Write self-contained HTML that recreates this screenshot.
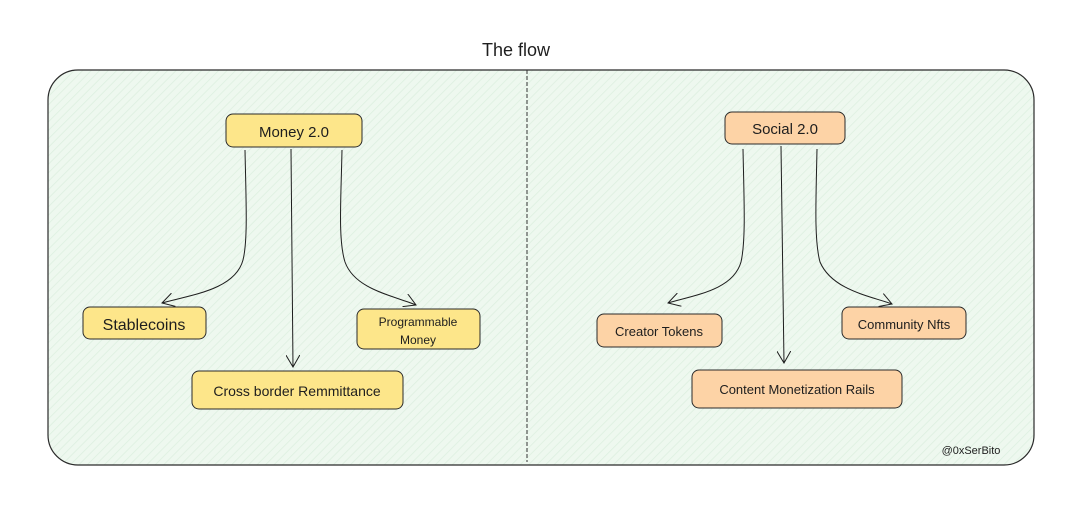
<!DOCTYPE html>
<html><head><meta charset="utf-8"><style>
body{margin:0;background:#fff;}
svg text{font-family:"Liberation Sans",sans-serif;fill:#1e1e1e;}
</style></head><body>
<svg width="1084" height="505" viewBox="0 0 1084 505" xmlns="http://www.w3.org/2000/svg">
<defs>
<pattern id="h" width="6" height="6" patternUnits="userSpaceOnUse" patternTransform="rotate(45)">
<rect width="6" height="6" fill="#eef8ef"/><line x1="0" y1="0" x2="0" y2="6" stroke="#dcefdf" stroke-width="1.5"/>
</pattern>
<marker id="a" markerWidth="14" markerHeight="14" refX="12" refY="7" orient="auto" markerUnits="userSpaceOnUse">
<path d="M0,0 L12,7 L0,14" fill="none" stroke="#1e1e1e" stroke-width="1"/></marker>
</defs>
<text x="516" y="56" font-size="18" text-anchor="middle">The flow</text>
<rect x="48" y="70" width="986" height="395" rx="30" fill="url(#h)" stroke="#2a2a2a" stroke-width="1.2"/>
<line x1="527" y1="70" x2="527" y2="462" stroke="#333" stroke-width="1" stroke-dasharray="4,2"/>
<g stroke="#1e1e1e" stroke-width="1" fill="none">
<path d="M245,150 C246,200 248,240 243,260 C235,290 190,295 162,303" marker-end="url(#a)"/>
<path d="M291,149 L293,367" marker-end="url(#a)"/>
<path d="M342,150 C341,200 338,240 345,262 C355,290 395,296 416,305" marker-end="url(#a)"/>
<path d="M743,149 C744,200 746,240 741,262 C733,290 695,295 668,303" marker-end="url(#a)"/>
<path d="M781,146 L784,363" marker-end="url(#a)"/>
<path d="M817,149 C816,200 814,240 820,262 C832,290 870,296 892,304" marker-end="url(#a)"/>
</g>
<g stroke="#2a2a2a" stroke-width="1">
<rect x="226" y="114" width="136" height="33" rx="7" fill="#fde68a"/>
<rect x="83" y="307" width="123" height="32" rx="7" fill="#fde68a"/>
<rect x="357" y="309" width="123" height="40" rx="7" fill="#fde68a"/>
<rect x="192" y="371" width="211" height="38" rx="7" fill="#fde68a"/>
<rect x="725" y="112" width="120" height="32" rx="7" fill="#fdd3a6"/>
<rect x="597" y="314" width="125" height="33" rx="7" fill="#fdd3a6"/>
<rect x="842" y="307" width="124" height="32" rx="7" fill="#fdd3a6"/>
<rect x="692" y="370" width="210" height="38" rx="7" fill="#fdd3a6"/>
</g>
<g text-anchor="middle">
<text x="294" y="137" font-size="15">Money 2.0</text>
<text x="144" y="330" font-size="16">Stablecoins</text>
<text x="418" y="326" font-size="12">Programmable</text>
<text x="418" y="344" font-size="12">Money</text>
<text x="297" y="396" font-size="14">Cross border Remmittance</text>
<text x="785" y="134" font-size="15">Social 2.0</text>
<text x="659" y="336" font-size="13">Creator Tokens</text>
<text x="904" y="329" font-size="13">Community Nfts</text>
<text x="797" y="394" font-size="13">Content Monetization Rails</text>
<text x="971" y="454" font-size="11">@0xSerBito</text>
</g>
</svg>
</body></html>
